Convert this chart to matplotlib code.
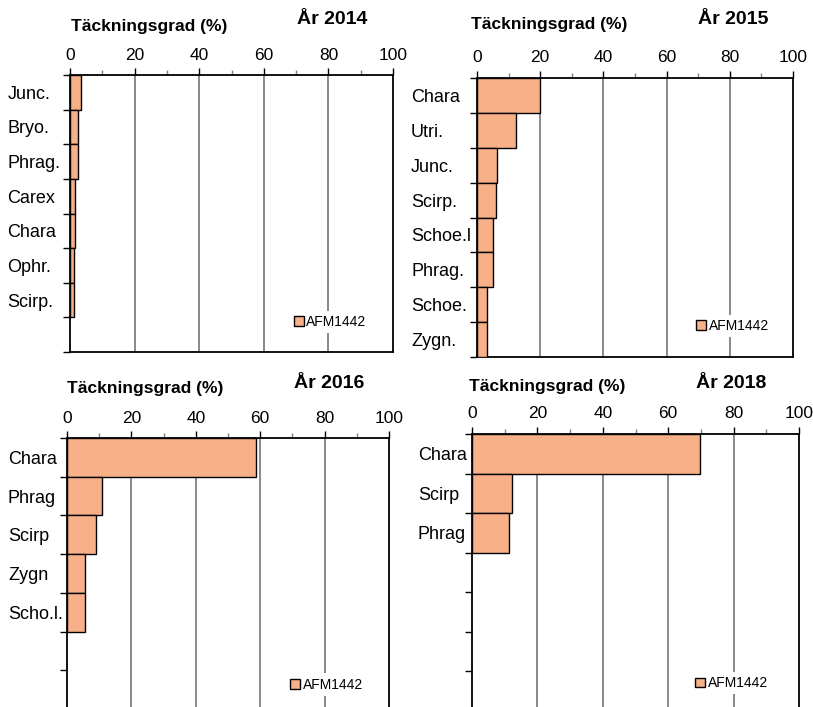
import numpy as np
import matplotlib.pyplot as plt

plt.rcParams['font.family'] = ['Liberation Sans', 'DejaVu Sans']

# data (coverage in %)
cat_2014 = ["Junc.", "Bryo.", "Phrag.", "Carex", "Chara", "Ophr.", "Scirp."]
val_2014 = [3.3, 2.4, 2.4, 1.6, 1.7, 1.2, 1.2]

cat_2015 = ["Chara", "Utri.", "Junc.", "Scirp.", "Schoe.l", "Phrag.", "Schoe.", "Zygn."]
val_2015 = [20.0, 12.4, 6.4, 6.0, 5.2, 5.2, 3.2, 3.2]

cat_2016 = ["Chara", "Phrag", "Scirp", "Zygn", "Scho.l."]
val_2016 = [58.8, 10.8, 9.1, 5.6, 5.6]

cat_2018 = ["Chara", "Scirp", "Phrag"]
val_2018 = [69.7, 12.2, 11.4]

W, H = 813, 707
fig = plt.figure(figsize=(W / 100, H / 100), dpi=100)

bar_col = '#F7B087'

def px(x0, y0, x1, y1):
    # pixel box -> figure fraction rect
    return [x0 / W, 1 - y1 / H, (x1 - x0) / W, (y1 - y0) / H]

def panel(rect, cats, vals, nslots, year, lab_pad, title_xy, year_xy, leg_xy):
    ax = fig.add_axes(px(*rect))
    y = np.arange(len(cats)) + 0.5
    bars = ax.barh(y, vals, height=1.0, color=bar_col, edgecolor='black',
                   linewidth=1.0, zorder=3)
    ax.set_xlim(0, 100)
    ax.set_ylim(nslots, 0)
    ax.xaxis.tick_top()
    ax.set_xticks(np.arange(0, 101, 20))
    ax.set_xticks(np.arange(10, 100, 20), minor=True)
    ax.tick_params(axis='x', which='major', labelsize=12.5, length=5, width=1, pad=4)
    ax.tick_params(axis='x', which='minor', length=3.5, width=1, color='#808080')
    ax.set_yticks(np.arange(0, nslots + 1))
    ax.set_yticklabels([])
    ax.tick_params(axis='y', which='major', length=5, width=1)
    ax.set_yticks(y, minor=True)
    ax.set_yticklabels(cats, minor=True, fontsize=13, ha='left')
    ax.tick_params(axis='y', which='minor', length=0, pad=lab_pad)
    for g in [20, 40, 60, 80]:
        ax.axvline(g, color='#808080', lw=1.3, zorder=1)
    for s in ax.spines.values():
        s.set_linewidth(1.3)
    leg = ax.legend([bars], ['AFM1442'], loc='center left', bbox_to_anchor=leg_xy,
                    fontsize=10, handlelength=0.7, handleheight=0.7,
                    handletextpad=0.2, borderpad=0.3, borderaxespad=0,
                    frameon=True, fancybox=False)
    leg.get_frame().set_edgecolor('none')
    leg.get_frame().set_facecolor('white')
    leg.get_frame().set_alpha(1)
    leg.set_zorder(5)
    fig.text(title_xy[0] / W, 1 - title_xy[1] / H, 'Täckningsgrad (%)',
             fontsize=12.5, fontweight='bold', ha='center', va='center')
    fig.text(year_xy[0] / W, 1 - year_xy[1] / H, 'År ' + year,
             fontsize=14, fontweight='bold', ha='center', va='center')
    return ax

panel((70, 75, 393, 352), cat_2014, val_2014, 8, '2014', 45,
      (149, 27), (332, 20), (0.68, 0.108))
panel((477, 78, 793, 357), cat_2015, val_2015, 8, '2015', 47.5,
      (549, 25), (733, 20), (0.68, 0.112))
panel((67, 438, 389, 709), cat_2016, val_2016, 7, '2016', 42.5,
      (145, 388), (329, 384), (0.68, 0.09))
panel((472, 434, 799, 711), cat_2018, val_2018, 7, '2018', 39,
      (547, 387), (731, 384), (0.67, 0.10))

fig.savefig('out.png', dpi=100)
